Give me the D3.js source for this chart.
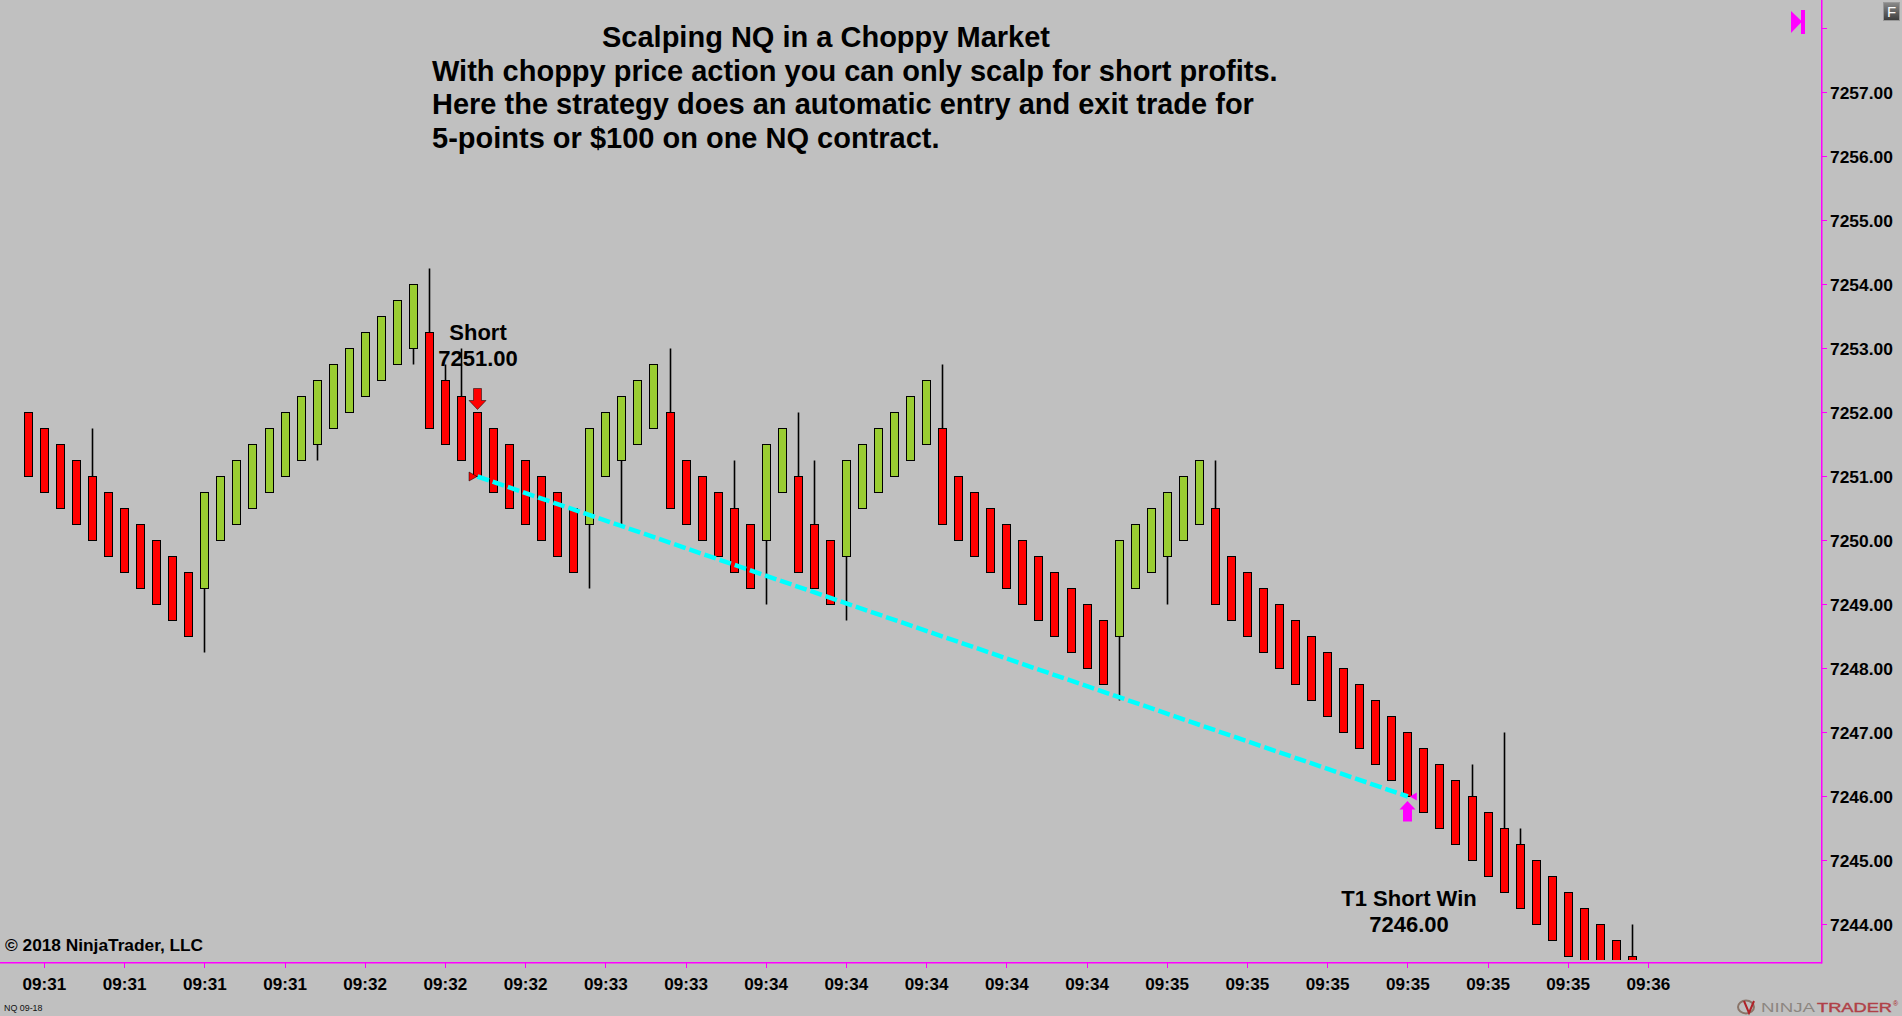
<!DOCTYPE html>
<html><head><meta charset="utf-8">
<script src="https://cdn.jsdelivr.net/npm/d3@7/dist/d3.min.js"></script>
<style>html,body{margin:0;padding:0;background:#c0c0c0;overflow:hidden}svg{display:block}text{font-family:"Liberation Sans",Arial,sans-serif}</style>
</head><body><svg id="c" width="1902" height="1016"></svg>
<script>
const opens=[7252,7251.75,7251.5,7251.25,7251,7250.75,7250.5,7250.25,7250,7249.75,7249.5,7249.25,7250,7250.25,7250.5,7250.75,7251,7251.25,7251.5,7251.75,7252,7252.25,7252.5,7252.75,7253,7253.25,7252.5,7252.25,7252,7251.75,7251.5,7251.25,7251,7250.75,7250.5,7250.25,7251,7251.25,7251.5,7251.75,7252,7251.25,7251,7250.75,7250.5,7250.25,7250,7250.75,7251,7250.25,7250,7249.75,7250.5,7250.75,7251,7251.25,7251.5,7251.75,7251,7250.75,7250.5,7250.25,7250,7249.75,7249.5,7249.25,7249,7248.75,7248.5,7249.25,7249.5,7249.75,7250,7250.25,7250.5,7249.75,7249.5,7249.25,7249,7248.75,7248.5,7248.25,7248,7247.75,7247.5,7247.25,7247,7246.75,7246.5,7246.25,7246,7245.75,7245.5,7245.25,7245,7244.75,7244.5,7244.25,7244,7243.75,7243.5];
const closes=[7251,7250.75,7250.5,7250.25,7250,7249.75,7249.5,7249.25,7249,7248.75,7248.5,7250.75,7251,7251.25,7251.5,7251.75,7252,7252.25,7252.5,7252.75,7253,7253.25,7253.5,7253.75,7254,7251.75,7251.5,7251.25,7251,7250.75,7250.5,7250.25,7250,7249.75,7249.5,7251.75,7252,7252.25,7252.5,7252.75,7250.5,7250.25,7250,7249.75,7249.5,7249.25,7251.5,7251.75,7249.5,7249.25,7249,7251.25,7251.5,7251.75,7252,7252.25,7252.5,7250.25,7250,7249.75,7249.5,7249.25,7249,7248.75,7248.5,7248.25,7248,7247.75,7250,7250.25,7250.5,7250.75,7251,7251.25,7249,7248.75,7248.5,7248.25,7248,7247.75,7247.5,7247.25,7247,7246.75,7246.5,7246.25,7246,7245.75,7245.5,7245.25,7245,7244.75,7244.5,7244.25,7244,7243.75,7243.5,7243.25,7243,7242.75,7242.5];
// wick extremes: bar number (1-based), price
const highWicks=[[5,7251.75],[26,7254.25],[27,7252.75],[28,7253],[41,7253],[45,7251.25],[49,7252],[50,7251.25],[58,7252.75],[75,7251.25],[91,7246.5],[93,7247],[94,7245.5],[101,7244]];
const lowWicks=[[12,7248.25],[19,7251.25],[25,7252.75],[36,7249.25],[38,7250.25],[47,7249],[52,7248.75],[69,7247.5],[72,7249]];
const yTicks=[7244,7245,7246,7247,7248,7249,7250,7251,7252,7253,7254,7255,7256,7257,7258];
const xLabels=["09:31","09:31","09:31","09:31","09:32","09:32","09:32","09:33","09:33","09:34","09:34","09:34","09:34","09:34","09:35","09:35","09:35","09:35","09:35","09:35","09:36"];
const titleLines=["Scalping NQ in a Choppy Market","With choppy price action you can only scalp for short profits.","Here the strategy does an automatic entry and exit trade for","5-points or $100 on one NQ contract."];
const tradeLine=[[29,7251],[87,7246]];

const svg=d3.select("#c");
const y=d3.scaleLinear().domain([7244,7257]).range([924.5,92.5]);
const x=d3.scaleLinear().domain([1,101]).range([28.4,1632.4]);
const BG="#c0c0c0",RED="#ff0000",GREEN="#9acd32",MAG="#ff00ff",CY="#00ffff";
svg.append("rect").attr("width",1902).attr("height",1016).attr("fill",BG);
const defs=svg.append("defs");
defs.append("clipPath").attr("id","plot").append("rect").attr("x",0).attr("y",0).attr("width",1821).attr("height",960);
const g=defs.append("linearGradient").attr("id","fb").attr("x1",0).attr("x2",0).attr("y1",0).attr("y2",1);
g.append("stop").attr("offset",0).attr("stop-color","#8a8a8a");g.append("stop").attr("offset",1).attr("stop-color","#3c3c3c");

const plot=svg.append("g").attr("clip-path","url(#plot)");
const bars=opens.map((o,i)=>({n:i+1,o,c:closes[i]}));
const cx=n=>Math.floor(x(n))+.5;
const wick=plot.append("g").attr("stroke","#000").attr("stroke-width",1.6);
const bodyEnd=(n,f)=>f(opens[n-1],closes[n-1]);
wick.selectAll(".h").data(highWicks).join("line").attr("x1",d=>cx(d[0])).attr("x2",d=>cx(d[0]))
 .attr("y1",d=>y(d[1])).attr("y2",d=>y(bodyEnd(d[0],Math.max)));
wick.selectAll(".l").data(lowWicks).join("line").attr("x1",d=>cx(d[0])).attr("x2",d=>cx(d[0]))
 .attr("y1",d=>y(d[1])).attr("y2",d=>y(bodyEnd(d[0],Math.min)));
plot.append("g").selectAll("rect").data(bars).join("rect")
 .attr("x",d=>cx(d.n)-4).attr("width",8)
 .attr("y",d=>y(Math.max(d.o,d.c)))
 .attr("height",d=>y(Math.min(d.o,d.c))-y(Math.max(d.o,d.c)))
 .attr("fill",d=>d.c>d.o?GREEN:RED).attr("stroke","#000").attr("stroke-width",1);

// trade line
plot.append("line").attr("x1",x(tradeLine[0][0])).attr("y1",y(tradeLine[0][1])).attr("x2",x(tradeLine[1][0])).attr("y2",y(tradeLine[1][1]))
 .attr("stroke",CY).attr("stroke-width",4.5).attr("stroke-dasharray","12 4");

// markers positioned from trade values
const ex=x(tradeLine[0][0]),ey=y(tradeLine[0][1]),tx=x(tradeLine[1][0]),ty=y(tradeLine[1][1]);
svg.append("path").attr("d",`M${ex-8.5},${ey-4.5}L${ex-8.5},${ey+4.5}L${ex-0.5},${ey}Z`).attr("fill",RED).attr("stroke","#000").attr("stroke-width",.5);
svg.append("path").attr("d",`M${tx+9},${ty-4}L${tx+9},${ty+4}L${tx+2},${ty}Z`).attr("fill",MAG);
const a1=cx(29),t1=y(7252);
svg.append("path").attr("d",`M${a1-4},${t1-24}h8v12h4.5l-8.5,9l-8.5,-9h4.5z`).attr("fill",RED).attr("stroke","#000").attr("stroke-width",.5);
const a2=cx(87);
svg.append("path").attr("d",`M${a2-4.5},${ty+25}v-12h-3.5l8,-8.5l8,8.5h-3.5v12z`).attr("fill",MAG);

// axes
const axis=svg.append("g").attr("stroke",MAG).attr("stroke-width",1.5);
axis.append("line").attr("x1",1821.75).attr("x2",1821.75).attr("y1",0).attr("y2",963.5);
axis.append("line").attr("x1",0).attr("x2",1822).attr("y1",962.75).attr("y2",962.75);
axis.selectAll(".yt").data(yTicks).join("line").attr("stroke-width",1).attr("x1",1821).attr("x2",1827).attr("y1",d=>y(d)).attr("y2",d=>y(d));
axis.selectAll(".xt").data(xLabels).join("line").attr("stroke-width",1).attr("x1",(d,i)=>cx(2+i*5)).attr("x2",(d,i)=>cx(2+i*5)).attr("y1",963).attr("y2",968);
svg.append("g").selectAll("text").data(yTicks.slice(0,-1)).join("text").attr("x",1830).attr("y",d=>y(d)+6.5).attr("font-size",17.4).attr("font-weight",700).text(d=>d.toFixed(2));
svg.append("g").selectAll("text").data(xLabels).join("text").attr("x",(d,i)=>x(2+i*5)).attr("y",990).attr("text-anchor","middle").attr("font-size",17.1).attr("font-weight",700).text(d=>d);

// text
const tx0=[602,432,432,432];
svg.append("g").selectAll("text").data(titleLines).join("text").attr("x",(d,i)=>tx0[i]).attr("y",(d,i)=>47+i*33.7).attr("font-size",29).attr("font-weight",700).attr("fill","#000").text(d=>d);
const note=(s,cx,by)=>svg.append("text").attr("x",cx).attr("y",by).attr("text-anchor","middle").attr("font-size",22).attr("font-weight",700).text(s);
note("Short",478,340);note("7251.00",478,366);note("T1 Short Win",1409,906);note("7246.00",1409,932);
svg.append("text").attr("x",5).attr("y",951).attr("font-size",17.3).attr("font-weight",700).text("© 2018 NinjaTrader, LLC");
svg.append("text").attr("x",4).attr("y",1011).attr("font-size",8.9).attr("fill","#111").text("NQ 09-18");
// top right marker + F
svg.append("path").attr("d","M1791,11L1802,21.5L1791,33Z").attr("fill",MAG);
svg.append("rect").attr("x",1801).attr("y",10).attr("width",4).attr("height",24).attr("fill",MAG);
svg.append("rect").attr("x",1883.5).attr("y",2.5).attr("width",16).attr("height",18).attr("fill","url(#fb)").attr("stroke","#999");
svg.append("text").attr("x",1891.5).attr("y",17).attr("text-anchor","middle").attr("font-size",15).attr("fill","#fff").text("F");
// logo
const logo=(s,lx,w,c,fw)=>svg.append("text").attr("x",lx).attr("y",1012).attr("font-size",13).attr("font-weight",fw).attr("fill",c).attr("textLength",w).attr("lengthAdjust","spacingAndGlyphs").text(s);
logo("NINJA",1761,54,"#8c8680",400);logo("TRADER",1817,75,"#b04048",400).attr("stroke","#b04048").attr("stroke-width",.4);
svg.append("text").attr("x",1893).attr("y",1006).attr("font-size",7).attr("fill","#a82a30").text("®");
const lg=svg.append("g").attr("fill","none").attr("stroke-width",2);
lg.append("ellipse").attr("cx",1746).attr("cy",1007).attr("rx",8).attr("ry",6.5).attr("stroke","#8a7468");
lg.append("path").attr("d","M1744,1001L1749,1013L1754,1001").attr("stroke","#b02228");
</script></body></html>
